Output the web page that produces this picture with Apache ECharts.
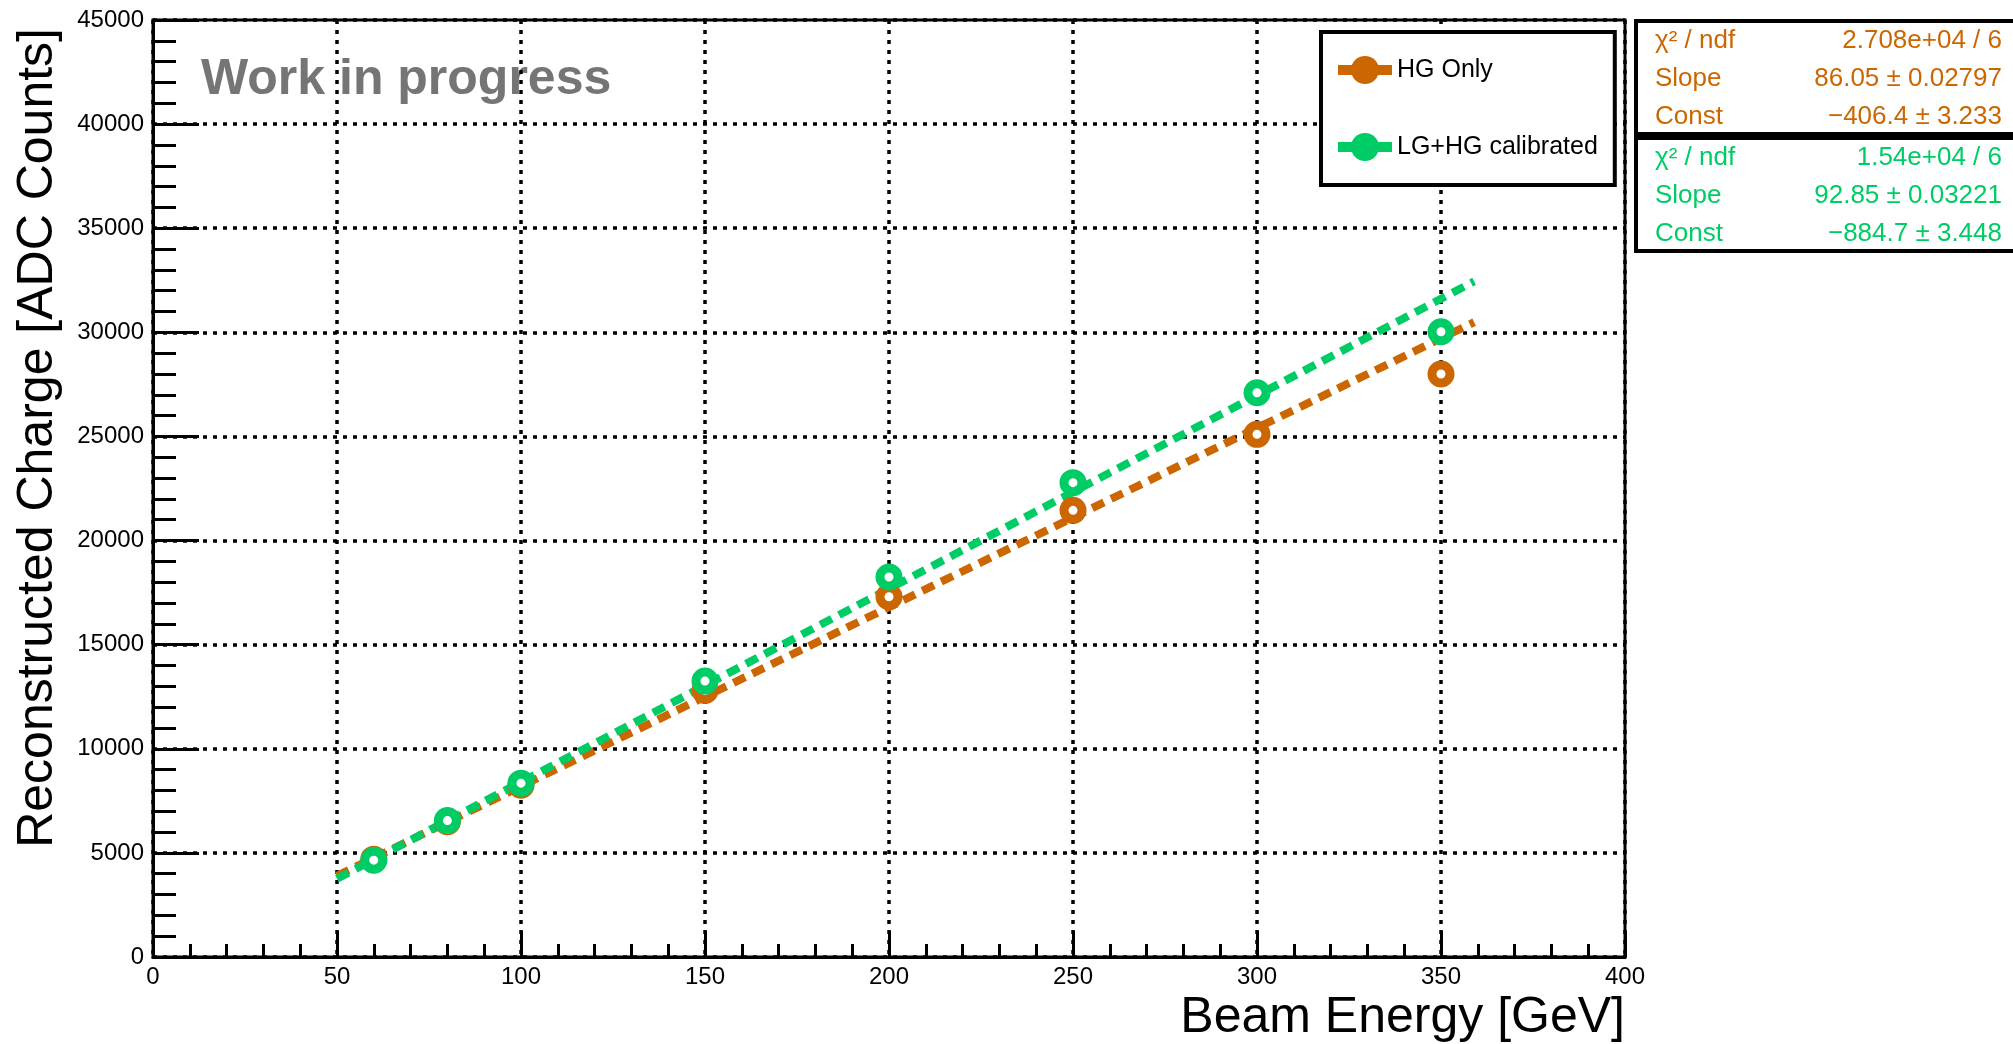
<!DOCTYPE html>
<html>
<head>
<meta charset="utf-8">
<title>Reconstructed Charge vs Beam Energy</title>
<script src="https://cdn.jsdelivr.net/npm/echarts@6/dist/echarts.min.js"></script>
<style>
html, body { margin: 0; padding: 0; background: #fff; }
#chart { width: 2013px; height: 1044px; }
</style>
</head>
<body>
<div id="chart"></div>
<script>
// beam energies [GeV]
const energies = [60, 80, 100, 150, 200, 250, 300, 350];
// reconstructed charge [ADC counts]
const hgOnly = [4700, 6500, 8250, 12800, 17300, 21450, 25100, 28000];
const lgHg = [4650, 6550, 8350, 13250, 18250, 22780, 27100, 30030];
// fit lines, read at their two ends
const fitRange = [50, 359];
const hgFitEnds = [3896, 30486];
const lgFitEnds = [3758, 32449];
// axes
const xRange = [0, 400, 50];
const yRange = [0, 45000, 5000];
// fit boxes
const statsHG = [['χ² / ndf', '2.708e+04 / 6'], ['Slope', '86.05 ± 0.02797'], ['Const', '−406.4 ± 3.233']];
const statsLG = [['χ² / ndf', '1.54e+04 / 6'], ['Slope', '92.85 ± 0.03221'], ['Const', '−884.7 ± 3.448']];

const orange = '#cc6600';
const green = '#00cc66';
const font = '"Liberation Sans", Arial, Helvetica, sans-serif';

function pairs(xs, ys) {
    return xs.map((x, i) => [x, ys[i]]);
}

function pointSeries(name, values, color) {
    return {
        name: name,
        type: 'line',
        data: pairs(energies, values),
        symbol: 'circle',
        symbolSize: 18,
        showAllSymbol: true,
        lineStyle: { width: 0, opacity: 0 },
        itemStyle: { color: '#fff', borderColor: color, borderWidth: 9 },
        silent: true
    };
}

function fitSeries(name, ends, color) {
    return {
        name: name,
        type: 'line',
        data: pairs(fitRange, ends),
        symbol: 'none',
        lineStyle: { color: color, width: 8, type: [13, 8], cap: 'butt' },
        silent: true
    };
}

// stats boxes on the right
let graphics = [];
[[statsHG, orange, 21], [statsLG, green, 138]].forEach(([rows, color, top]) => {
    graphics.push({
        type: 'rect',
        shape: { x: 1636, y: top, width: 420, height: 113 },
        style: { fill: '#fff', stroke: '#000', lineWidth: 4 }
    });
    rows.forEach((r, i) => {
        let y = top + 20 + i * 38;
        graphics.push({
            type: 'text', x: 1655, y: y,
            style: { text: r[0], fill: color, font: '26px ' + font, textAlign: 'left', textVerticalAlign: 'middle' }
        });
        graphics.push({
            type: 'text', x: 2002, y: y,
            style: { text: r[1], fill: color, font: '26px ' + font, textAlign: 'right', textVerticalAlign: 'middle' }
        });
    });
});
graphics.push({
    type: 'text', x: 201, y: 80,
    style: { text: 'Work in progress', fill: '#777574', font: 'bold 50px ' + font, textAlign: 'left', textVerticalAlign: 'middle' }
});
graphics.push({
    type: 'text', x: 1625, y: 1018,
    style: { text: 'Beam Energy [GeV]', fill: '#000', font: '50px ' + font, textAlign: 'right', textVerticalAlign: 'middle' }
});
graphics.push({
    type: 'text', x: 38, y: 28, rotation: Math.PI / 2,
    style: { text: 'Reconstructed Charge [ADC Counts]', fill: '#000', font: '50px ' + font, textAlign: 'right', textVerticalAlign: 'middle' }
});

const axisCommon = {
    type: 'value',
    axisLine: { show: true, lineStyle: { color: '#000', width: 3 } },
    splitLine: { show: true, lineStyle: { color: '#000', width: 3.5, type: [4, 6] } },
    axisLabel: { color: '#000', fontSize: 24, fontFamily: font, formatter: v => String(v) }
};

let option = {
    animation: false,
    backgroundColor: '#fff',
    grid: {
        left: 153, right: 388, top: 20, bottom: 87,
        show: true, borderColor: '#000', borderWidth: 3,
        outerBoundsMode: 'none'
    },
    xAxis: Object.assign({}, axisCommon, {
        min: xRange[0], max: xRange[1], interval: xRange[2],
        axisTick: { inside: true, length: 26, lineStyle: { color: '#000', width: 3 } },
        minorTick: { show: true, splitNumber: 5, length: 13, lineStyle: { color: '#000', width: 3 } },
        axisLabel: Object.assign({}, axisCommon.axisLabel, { margin: 8 })
    }),
    yAxis: Object.assign({}, axisCommon, {
        min: yRange[0], max: yRange[1], interval: yRange[2],
        axisTick: { inside: true, length: 46, lineStyle: { color: '#000', width: 3 } },
        minorTick: { show: true, splitNumber: 5, length: 23, lineStyle: { color: '#000', width: 3 } },
        axisLabel: Object.assign({}, axisCommon.axisLabel, { margin: 9 })
    }),
    legend: {
        orient: 'vertical',
        left: 1321, top: 32,
        padding: [24, 17, 24, 12],
        itemWidth: 54, itemHeight: 35, itemGap: 49,
        borderColor: '#000', borderWidth: 4,
        backgroundColor: '#fff',
        selectedMode: false,
        textStyle: { color: '#000', fontSize: 25, fontFamily: font },
        data: [
            { name: 'HG Only', itemStyle: { color: orange, borderColor: orange, borderWidth: 0, opacity: 1 }, lineStyle: { color: orange, width: 10, type: 'solid', opacity: 1 } },
            { name: 'LG+HG calibrated', itemStyle: { color: green, borderColor: green, borderWidth: 0, opacity: 1 }, lineStyle: { color: green, width: 10, type: 'solid', opacity: 1 } }
        ]
    },
    series: [
        fitSeries('HG fit', hgFitEnds, orange),
        pointSeries('HG Only', hgOnly, orange),
        fitSeries('LG+HG fit', lgFitEnds, green),
        pointSeries('LG+HG calibrated', lgHg, green)
    ],
    graphic: graphics
};

let chart = echarts.init(document.getElementById('chart'));
chart.setOption(option);
window.addEventListener('resize', function() {
    chart.resize();
});
</script>
</body>
</html>
